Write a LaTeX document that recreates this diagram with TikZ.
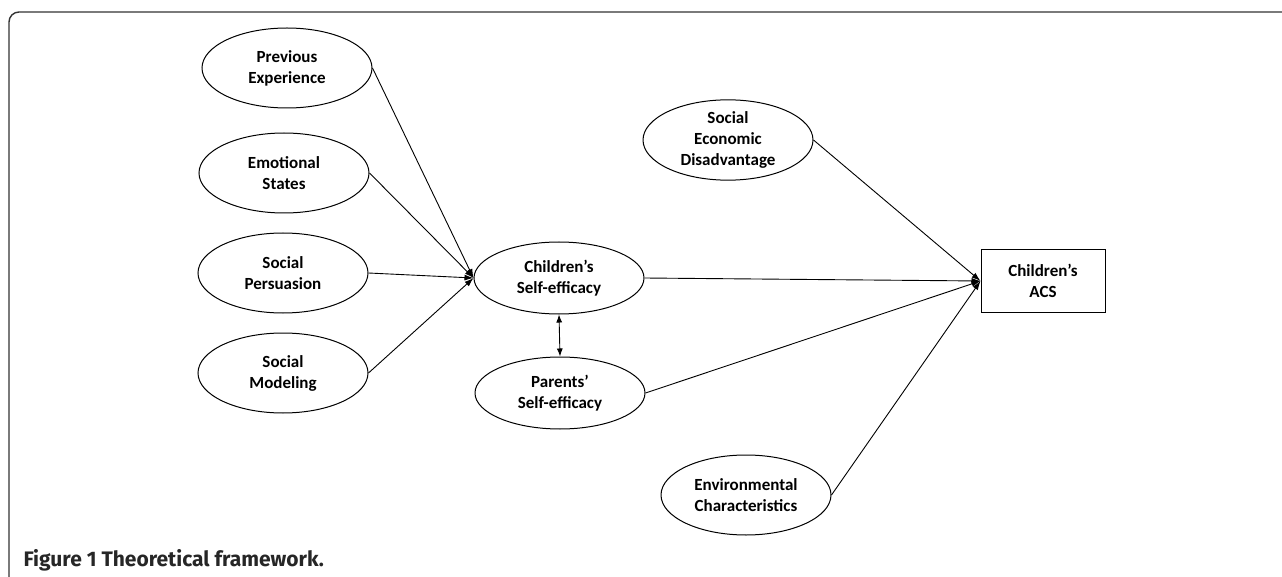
\documentclass[tikz,border=0pt]{standalone}
\usepackage{fontspec}
\setmainfont{Carlito}
\newfontfamily\captfont{Fira Sans}
\usetikzlibrary{shapes.geometric,arrows.meta}

\tikzset{
	factor/.style={draw,ellipse,line width=1pt,inner sep=0pt,minimum width=170pt,minimum height=80pt,
		align=center,font=\fontsize{17}{21}\selectfont\bfseries},
	small factor/.style={factor,minimum height=72pt},
	outcome/.style={draw,rectangle,line width=1pt,minimum width=124pt,minimum height=63pt,
		align=center,font=\fontsize{17}{21}\selectfont\bfseries},
	path/.style={line width=0.9pt,-{Latex[length=9pt,width=6pt]}},
	link/.style={line width=0.9pt,{Latex[length=8pt,width=6pt]}-{Latex[length=8pt,width=6pt]}}
}

\begin{document}
\begin{tikzpicture}[x=1pt,y=-1pt]
			\useasboundingbox (0,0) rectangle (1282,577);
			\draw[black!80,line width=1.4pt,rounded corners=10pt] (9,590) -- (9,12) -- (1295,12);

			% sources of self-efficacy
			\node[factor] (prev) at (287,68) {Previous\\Experience};
			\node[factor] (emot) at (284,173) {Emotional\\States};
			\node[factor] (pers) at (283,273) {Social\\Persuasion};
			\node[factor] (model) at (283,373) {Social\\Modeling};

			% self-efficacy
			\node[small factor] (child) at (559,278) {Children's\\Self-efficacy};
			\node[small factor] (parent) at (560,393) {Parents'\\Self-efficacy};

			% other factors and outcome
			\node[factor] (ses) at (728,140) {Social\\Economic\\Disadvantage};
			\node[factor] (env) at (746,495) {Environmental\\Characteristics};
			\node[outcome] (acs) at (1043,281) {Children's\\ACS};

			\draw[path] (prev.east) -- (child.west);
			\draw[path] (emot.east) -- (child.west);
			\draw[path] (pers.east) -- (child.west);
			\draw[path] (model.east) -- (child.west);

			\draw[link] (child.south) -- (parent.north);

			\draw[path] (ses.east) -- (acs.west);
			\draw[path] (child.east) -- (acs.west);
			\draw[path] (parent.east) -- (acs.west);
			\draw[path] (env.east) -- (acs.west);

			\node[anchor=west,font=\captfont\fontsize{21}{24}\selectfont\bfseries,text=black!85] (capt) at (20,560)
				{Figure 1 Theoretical framework.};
		\end{tikzpicture}
\end{document}
